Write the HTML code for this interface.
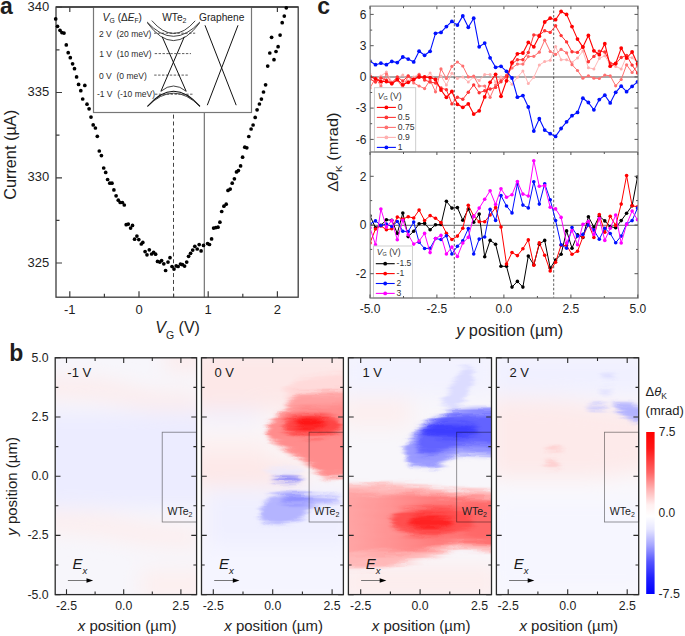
<!DOCTYPE html>
<html><head><meta charset="utf-8"><style>html,body{margin:0;padding:0;background:#fff;width:685px;height:636px;overflow:hidden}svg{display:block}</style></head>
<body><svg width="685" height="636" viewBox="0 0 685 636" font-family='"Liberation Sans", sans-serif' fill="#1e1e1e">
<g id="pa"><line x1="173.5" y1="114.6" x2="173.5" y2="297.2" stroke="#444" stroke-width="1" stroke-dasharray="4,2.89"/><line x1="204.3" y1="112.5" x2="204.3" y2="297.2" stroke="#666" stroke-width="1.1"/><rect x="56.0" y="7.0" width="242.2" height="290.2" fill="none" stroke="#3c3c3c" stroke-width="1.3"/><path d="M69.8 297.2v-6M69.8 7.0v5M139.0 297.2v-6M139.0 7.0v5M208.2 297.2v-6M208.2 7.0v5M277.4 297.2v-6M277.4 7.0v5M104.4 297.2v-3.5M104.4 7.0v3M173.6 297.2v-3.5M173.6 7.0v3M242.8 297.2v-3.5M242.8 7.0v3M56.0 263.0h6M56.0 177.8h6M56.0 92.5h6M56.0 7.2h6M56.0 220.4h3.5M56.0 135.1h3.5M56.0 49.9h3.5" stroke="#3c3c3c" stroke-width="1.2" fill="none"/><rect x="93.5" y="7.0" width="158" height="105.5" fill="#fff" stroke="#777" stroke-width="1.2"/><line x1="56.0" y1="7.0" x2="298.2" y2="7.0" stroke="#3c3c3c" stroke-width="1.3"/><text x="69.8" y="313.7" font-size="13" text-anchor="middle">-1</text><text x="139.0" y="313.7" font-size="13" text-anchor="middle">0</text><text x="208.2" y="313.7" font-size="13" text-anchor="middle">1</text><text x="277.4" y="313.7" font-size="13" text-anchor="middle">2</text><text x="49.3" y="266.5" font-size="13" text-anchor="end">325</text><text x="49.3" y="181.2" font-size="13" text-anchor="end">330</text><text x="49.3" y="96.0" font-size="13" text-anchor="end">335</text><text x="49.3" y="10.8" font-size="13" text-anchor="end">340</text><text x="155.3" y="333.4" font-size="16"><tspan font-style="italic">V</tspan><tspan font-size="10.5" dy="5.9">G</tspan><tspan dy="-5.9"> (V)</tspan></text><text transform="translate(16.1,154.9) scale(0.96,1) rotate(-90)" font-size="16.3" text-anchor="middle">Current (µA)</text><text x="0" y="13.6" font-size="23" font-weight="bold">a</text><g fill="#000"><circle cx="55.7" cy="18.9" r="1.85"/><circle cx="57.5" cy="26.3" r="1.85"/><circle cx="60" cy="30.3" r="1.85"/><circle cx="61.9" cy="32.6" r="1.85"/><circle cx="64" cy="33.1" r="1.85"/><circle cx="66.3" cy="44.9" r="1.85"/><circle cx="68.2" cy="52.7" r="1.85"/><circle cx="70.3" cy="57.7" r="1.85"/><circle cx="72.6" cy="63.8" r="1.85"/><circle cx="74.5" cy="68.7" r="1.85"/><circle cx="76.6" cy="76.9" r="1.85"/><circle cx="78.6" cy="84.4" r="1.85"/><circle cx="84.8" cy="85.4" r="1.85"/><circle cx="80.8" cy="90.7" r="1.85"/><circle cx="82.7" cy="99" r="1.85"/><circle cx="87" cy="104.2" r="1.85"/><circle cx="89.1" cy="108.8" r="1.85"/><circle cx="91" cy="117.1" r="1.85"/><circle cx="93.2" cy="124.9" r="1.85"/><circle cx="95.4" cy="128" r="1.85"/><circle cx="97.3" cy="136.3" r="1.85"/><circle cx="99.3" cy="151" r="1.85"/><circle cx="101.4" cy="155.6" r="1.85"/><circle cx="103.7" cy="168" r="1.85"/><circle cx="105.7" cy="172.4" r="1.85"/><circle cx="107.6" cy="179.5" r="1.85"/><circle cx="109.8" cy="183.2" r="1.85"/><circle cx="112" cy="183.2" r="1.85"/><circle cx="113.9" cy="189.9" r="1.85"/><circle cx="116.1" cy="195.8" r="1.85"/><circle cx="118.3" cy="200.2" r="1.85"/><circle cx="120.2" cy="202.5" r="1.85"/><circle cx="122.4" cy="202.5" r="1.85"/><circle cx="124.3" cy="205" r="1.85"/><circle cx="126.2" cy="224.7" r="1.85"/><circle cx="128.3" cy="224.1" r="1.85"/><circle cx="132.5" cy="225.4" r="1.85"/><circle cx="130.6" cy="228.1" r="1.85"/><circle cx="136.9" cy="236.1" r="1.85"/><circle cx="134.6" cy="239.2" r="1.85"/><circle cx="138.8" cy="239.6" r="1.85"/><circle cx="142.8" cy="242.4" r="1.85"/><circle cx="141.3" cy="244" r="1.85"/><circle cx="145.1" cy="251.6" r="1.85"/><circle cx="149.3" cy="249.8" r="1.85"/><circle cx="147" cy="254.8" r="1.85"/><circle cx="151.6" cy="254" r="1.85"/><circle cx="153.6" cy="252.4" r="1.85"/><circle cx="155.6" cy="254.2" r="1.85"/><circle cx="157.5" cy="261.4" r="1.85"/><circle cx="159.8" cy="262.1" r="1.85"/><circle cx="161.6" cy="260.6" r="1.85"/><circle cx="163.8" cy="263.8" r="1.85"/><circle cx="165.6" cy="270.5" r="1.85"/><circle cx="168" cy="262.1" r="1.85"/><circle cx="170" cy="257.7" r="1.85"/><circle cx="172" cy="266.5" r="1.85"/><circle cx="174" cy="269.1" r="1.85"/><circle cx="176.2" cy="265.9" r="1.85"/><circle cx="178.1" cy="266.5" r="1.85"/><circle cx="180.5" cy="264.1" r="1.85"/><circle cx="182.5" cy="264.7" r="1.85"/><circle cx="184.6" cy="266.1" r="1.85"/><circle cx="186.7" cy="262.1" r="1.85"/><circle cx="188.6" cy="256.3" r="1.85"/><circle cx="190.6" cy="253.3" r="1.85"/><circle cx="192.7" cy="250.1" r="1.85"/><circle cx="194.8" cy="246.3" r="1.85"/><circle cx="197.2" cy="249" r="1.85"/><circle cx="199.2" cy="244.6" r="1.85"/><circle cx="201.1" cy="250.9" r="1.85"/><circle cx="203.5" cy="245.4" r="1.85"/><circle cx="207.6" cy="243.6" r="1.85"/><circle cx="209.5" cy="244.5" r="1.85"/><circle cx="211.6" cy="238.9" r="1.85"/><circle cx="213.6" cy="228.1" r="1.85"/><circle cx="215.8" cy="227.6" r="1.85"/><circle cx="218" cy="227.2" r="1.85"/><circle cx="219.9" cy="222.2" r="1.85"/><circle cx="221.7" cy="211.5" r="1.85"/><circle cx="223.9" cy="206.2" r="1.85"/><circle cx="226.2" cy="204.2" r="1.85"/><circle cx="228" cy="190.4" r="1.85"/><circle cx="230.2" cy="189.1" r="1.85"/><circle cx="232.2" cy="183.2" r="1.85"/><circle cx="234.4" cy="178.8" r="1.85"/><circle cx="236.5" cy="171.9" r="1.85"/><circle cx="238.4" cy="170.6" r="1.85"/><circle cx="240.6" cy="165.9" r="1.85"/><circle cx="242.6" cy="157.2" r="1.85"/><circle cx="244.8" cy="147.2" r="1.85"/><circle cx="246.8" cy="147.8" r="1.85"/><circle cx="248.8" cy="136.5" r="1.85"/><circle cx="251.1" cy="129" r="1.85"/><circle cx="253.1" cy="125" r="1.85"/><circle cx="255.2" cy="117.4" r="1.85"/><circle cx="257.1" cy="109.8" r="1.85"/><circle cx="259.4" cy="104" r="1.85"/><circle cx="261.4" cy="99.1" r="1.85"/><circle cx="263.5" cy="92" r="1.85"/><circle cx="265.6" cy="84.8" r="1.85"/><circle cx="267.7" cy="66.1" r="1.85"/><circle cx="274" cy="59.7" r="1.85"/><circle cx="269.8" cy="53" r="1.85"/><circle cx="276" cy="51.5" r="1.85"/><circle cx="278.1" cy="46.7" r="1.85"/><circle cx="271.6" cy="37.3" r="1.85"/><circle cx="280.1" cy="35.1" r="1.85"/><circle cx="282.2" cy="22.7" r="1.85"/><circle cx="284.3" cy="16.1" r="1.85"/><circle cx="286.3" cy="7.8" r="1.85"/></g><g font-size="8.5" fill="#2a2a2a"><text x="99" y="36.8" xml:space="preserve">2 V  (20 meV)</text><text x="99.2" y="56.8" xml:space="preserve">1 V  (10 meV)</text><text x="99" y="78.7" xml:space="preserve">0 V  (0 meV)</text><text x="96.9" y="96.9" xml:space="preserve">-1 V  (-10 meV)</text></g><text x="102.6" y="21.1" font-size="10.5" fill="#222"><tspan font-style="italic">V</tspan><tspan font-size="6.8" dy="2">G</tspan><tspan dy="-2" font-size="10"> (Δ</tspan><tspan font-style="italic" font-size="10">E</tspan><tspan font-size="6.8" dy="2">F</tspan><tspan dy="-2" font-size="10">)</tspan></text><text x="162.2" y="20.6" font-size="10.2" fill="#222">WTe<tspan font-size="7" dy="2.5">2</tspan></text><text x="199" y="20.6" font-size="10.2" fill="#222">Graphene</text><g stroke="#333" stroke-width="0.8" stroke-dasharray="2.4,1.5"><line x1="154" y1="33.2" x2="195.2" y2="33.2"/><line x1="154.7" y1="53.6" x2="191" y2="53.6"/><line x1="154.2" y1="75.1" x2="189" y2="75.1"/><line x1="155" y1="94.2" x2="192.8" y2="94.2"/></g><g stroke="#111" stroke-width="0.8" fill="none"><path d="M151.8 20.6Q173.5 46.1 195.2 20.8"/><path d="M147 21.9Q173.5 50.7 200 21.9"/><path d="M147.5 23.1Q173.5 58.1 199.5 23.1"/><path d="M160.9 91.3Q173.5 80.7 186.2 91.3"/><path d="M147.5 106.4Q173.5 76.2 200 106.4" stroke-width="1.1"/><path d="M147.5 106.4Q173.5 80.0 200 106.4"/><path d="M162.2 36.8L186.2 91.3M184.3 36.8L160.9 91.3" stroke-width="1"/><path d="M205 25.3L236.2 105.2M238 25.3L207.3 105.2" stroke-width="1"/></g></g><defs><clipPath id="ctop"><rect x="370.2" y="6.2" width="267.8" height="145.8"/></clipPath><clipPath id="cbot"><rect x="370.2" y="152.0" width="267.8" height="146.0"/></clipPath></defs><path d="M370.2 76.9H638.0" stroke="#8c8c8c" stroke-width="1.5"/><path d="M370.2 225.3H638.0" stroke="#505050" stroke-width="0.9"/><path d="M454.3 6.2V298.0M553.7 6.2V298.0" stroke="#333" stroke-width="0.8" stroke-dasharray="2.5,1.9"/><g clip-path="url(#ctop)"><polyline points="370.0,74.0 375.5,80.0 380.9,76.0 386.4,72.0 391.8,82.0 397.3,78.0 402.8,75.0 408.2,81.0 413.7,77.0 419.1,74.0 424.6,79.0 430.1,73.0 435.5,80.0 441.0,76.0 446.4,85.0 451.9,73.2 457.4,78.4 462.8,77.0 468.3,82.0 473.7,77.0 479.2,80.5 484.7,74.4 490.1,74.6 495.6,82.0 501.0,77.0 506.5,78.4 512.0,84.2 517.4,77.3 522.9,71.0 528.3,83.6 533.8,77.3 539.3,65.1 544.7,61.6 550.2,60.3 555.6,46.5 561.1,59.7 566.6,59.7 572.0,62.4 577.5,58.0 582.9,51.1 588.4,67.8 593.9,68.9 599.3,58.4 604.8,55.8 610.2,64.4 615.7,66.4 621.2,68.9 626.6,56.4 632.1,57.8 637.5,62.4" fill="none" stroke="#ffb0b0" stroke-width="0.9" stroke-linejoin="round"/><g fill="#ffb0b0"><circle cx="370.0" cy="74.0" r="1.5"/><circle cx="375.5" cy="80.0" r="1.5"/><circle cx="380.9" cy="76.0" r="1.5"/><circle cx="386.4" cy="72.0" r="1.5"/><circle cx="391.8" cy="82.0" r="1.5"/><circle cx="397.3" cy="78.0" r="1.5"/><circle cx="402.8" cy="75.0" r="1.5"/><circle cx="408.2" cy="81.0" r="1.5"/><circle cx="413.7" cy="77.0" r="1.5"/><circle cx="419.1" cy="74.0" r="1.5"/><circle cx="424.6" cy="79.0" r="1.5"/><circle cx="430.1" cy="73.0" r="1.5"/><circle cx="435.5" cy="80.0" r="1.5"/><circle cx="441.0" cy="76.0" r="1.5"/><circle cx="446.4" cy="85.0" r="1.5"/><circle cx="451.9" cy="73.2" r="1.5"/><circle cx="457.4" cy="78.4" r="1.5"/><circle cx="462.8" cy="77.0" r="1.5"/><circle cx="468.3" cy="82.0" r="1.5"/><circle cx="473.7" cy="77.0" r="1.5"/><circle cx="479.2" cy="80.5" r="1.5"/><circle cx="484.7" cy="74.4" r="1.5"/><circle cx="490.1" cy="74.6" r="1.5"/><circle cx="495.6" cy="82.0" r="1.5"/><circle cx="501.0" cy="77.0" r="1.5"/><circle cx="506.5" cy="78.4" r="1.5"/><circle cx="512.0" cy="84.2" r="1.5"/><circle cx="517.4" cy="77.3" r="1.5"/><circle cx="522.9" cy="71.0" r="1.5"/><circle cx="528.3" cy="83.6" r="1.5"/><circle cx="533.8" cy="77.3" r="1.5"/><circle cx="539.3" cy="65.1" r="1.5"/><circle cx="544.7" cy="61.6" r="1.5"/><circle cx="550.2" cy="60.3" r="1.5"/><circle cx="555.6" cy="46.5" r="1.5"/><circle cx="561.1" cy="59.7" r="1.5"/><circle cx="566.6" cy="59.7" r="1.5"/><circle cx="572.0" cy="62.4" r="1.5"/><circle cx="577.5" cy="58.0" r="1.5"/><circle cx="582.9" cy="51.1" r="1.5"/><circle cx="588.4" cy="67.8" r="1.5"/><circle cx="593.9" cy="68.9" r="1.5"/><circle cx="599.3" cy="58.4" r="1.5"/><circle cx="604.8" cy="55.8" r="1.5"/><circle cx="610.2" cy="64.4" r="1.5"/><circle cx="615.7" cy="66.4" r="1.5"/><circle cx="621.2" cy="68.9" r="1.5"/><circle cx="626.6" cy="56.4" r="1.5"/><circle cx="632.1" cy="57.8" r="1.5"/><circle cx="637.5" cy="62.4" r="1.5"/></g></g><g clip-path="url(#ctop)"><polyline points="370.0,88.0 375.5,78.0 380.9,86.0 386.4,74.0 391.8,84.0 397.3,80.0 402.8,88.0 408.2,76.0 413.7,83.0 419.1,86.0 424.6,88.6 430.1,80.0 435.5,91.8 441.0,68.9 446.4,78.4 451.9,66.4 457.4,62.0 462.8,66.0 468.3,76.9 473.7,76.2 479.2,86.0 484.7,86.0 490.1,97.3 495.6,85.0 501.0,80.0 506.5,75.0 512.0,68.0 517.4,64.1 522.9,64.1 528.3,56.6 533.8,56.3 539.3,52.2 544.7,40.2 550.2,51.5 555.6,54.4 561.1,49.4 566.6,52.8 572.0,64.7 577.5,70.5 582.9,78.2 588.4,75.8 593.9,78.2 599.3,78.5 604.8,75.1 610.2,75.8 615.7,85.8 621.2,79.5 626.6,64.8 632.1,72.5 637.5,65.8" fill="none" stroke="#ff7070" stroke-width="1.0" stroke-linejoin="round"/><g fill="#ff7070"><circle cx="370.0" cy="88.0" r="1.6"/><circle cx="375.5" cy="78.0" r="1.6"/><circle cx="380.9" cy="86.0" r="1.6"/><circle cx="386.4" cy="74.0" r="1.6"/><circle cx="391.8" cy="84.0" r="1.6"/><circle cx="397.3" cy="80.0" r="1.6"/><circle cx="402.8" cy="88.0" r="1.6"/><circle cx="408.2" cy="76.0" r="1.6"/><circle cx="413.7" cy="83.0" r="1.6"/><circle cx="419.1" cy="86.0" r="1.6"/><circle cx="424.6" cy="88.6" r="1.6"/><circle cx="430.1" cy="80.0" r="1.6"/><circle cx="435.5" cy="91.8" r="1.6"/><circle cx="441.0" cy="68.9" r="1.6"/><circle cx="446.4" cy="78.4" r="1.6"/><circle cx="451.9" cy="66.4" r="1.6"/><circle cx="457.4" cy="62.0" r="1.6"/><circle cx="462.8" cy="66.0" r="1.6"/><circle cx="468.3" cy="76.9" r="1.6"/><circle cx="473.7" cy="76.2" r="1.6"/><circle cx="479.2" cy="86.0" r="1.6"/><circle cx="484.7" cy="86.0" r="1.6"/><circle cx="490.1" cy="97.3" r="1.6"/><circle cx="495.6" cy="85.0" r="1.6"/><circle cx="501.0" cy="80.0" r="1.6"/><circle cx="506.5" cy="75.0" r="1.6"/><circle cx="512.0" cy="68.0" r="1.6"/><circle cx="517.4" cy="64.1" r="1.6"/><circle cx="522.9" cy="64.1" r="1.6"/><circle cx="528.3" cy="56.6" r="1.6"/><circle cx="533.8" cy="56.3" r="1.6"/><circle cx="539.3" cy="52.2" r="1.6"/><circle cx="544.7" cy="40.2" r="1.6"/><circle cx="550.2" cy="51.5" r="1.6"/><circle cx="555.6" cy="54.4" r="1.6"/><circle cx="561.1" cy="49.4" r="1.6"/><circle cx="566.6" cy="52.8" r="1.6"/><circle cx="572.0" cy="64.7" r="1.6"/><circle cx="577.5" cy="70.5" r="1.6"/><circle cx="582.9" cy="78.2" r="1.6"/><circle cx="588.4" cy="75.8" r="1.6"/><circle cx="593.9" cy="78.2" r="1.6"/><circle cx="599.3" cy="78.5" r="1.6"/><circle cx="604.8" cy="75.1" r="1.6"/><circle cx="610.2" cy="75.8" r="1.6"/><circle cx="615.7" cy="85.8" r="1.6"/><circle cx="621.2" cy="79.5" r="1.6"/><circle cx="626.6" cy="64.8" r="1.6"/><circle cx="632.1" cy="72.5" r="1.6"/><circle cx="637.5" cy="65.8" r="1.6"/></g></g><g clip-path="url(#ctop)"><polyline points="370.0,79.0 375.5,82.0 380.9,78.0 386.4,80.0 391.8,83.0 397.3,77.0 402.8,81.0 408.2,76.0 413.7,80.0 419.1,75.0 424.6,80.0 430.1,82.0 435.5,83.0 441.0,88.0 446.4,89.7 451.9,103.9 457.4,97.3 462.8,99.2 468.3,92.2 473.7,84.9 479.2,92.7 484.7,90.8 490.1,89.0 495.6,87.4 501.0,81.7 506.5,76.2 512.0,63.8 517.4,59.7 522.9,59.7 528.3,52.5 533.8,34.9 539.3,35.2 544.7,30.8 550.2,32.4 555.6,25.8 561.1,35.6 566.6,41.9 572.0,51.8 577.5,52.4 582.9,46.7 588.4,61.8 593.9,56.4 599.3,51.1 604.8,52.0 610.2,63.1 615.7,63.8 621.2,57.5 626.6,55.5 632.1,65.1 637.5,73.1" fill="none" stroke="#ff3535" stroke-width="1.0" stroke-linejoin="round"/><g fill="#ff3535"><circle cx="370.0" cy="79.0" r="1.7"/><circle cx="375.5" cy="82.0" r="1.7"/><circle cx="380.9" cy="78.0" r="1.7"/><circle cx="386.4" cy="80.0" r="1.7"/><circle cx="391.8" cy="83.0" r="1.7"/><circle cx="397.3" cy="77.0" r="1.7"/><circle cx="402.8" cy="81.0" r="1.7"/><circle cx="408.2" cy="76.0" r="1.7"/><circle cx="413.7" cy="80.0" r="1.7"/><circle cx="419.1" cy="75.0" r="1.7"/><circle cx="424.6" cy="80.0" r="1.7"/><circle cx="430.1" cy="82.0" r="1.7"/><circle cx="435.5" cy="83.0" r="1.7"/><circle cx="441.0" cy="88.0" r="1.7"/><circle cx="446.4" cy="89.7" r="1.7"/><circle cx="451.9" cy="103.9" r="1.7"/><circle cx="457.4" cy="97.3" r="1.7"/><circle cx="462.8" cy="99.2" r="1.7"/><circle cx="468.3" cy="92.2" r="1.7"/><circle cx="473.7" cy="84.9" r="1.7"/><circle cx="479.2" cy="92.7" r="1.7"/><circle cx="484.7" cy="90.8" r="1.7"/><circle cx="490.1" cy="89.0" r="1.7"/><circle cx="495.6" cy="87.4" r="1.7"/><circle cx="501.0" cy="81.7" r="1.7"/><circle cx="506.5" cy="76.2" r="1.7"/><circle cx="512.0" cy="63.8" r="1.7"/><circle cx="517.4" cy="59.7" r="1.7"/><circle cx="522.9" cy="59.7" r="1.7"/><circle cx="528.3" cy="52.5" r="1.7"/><circle cx="533.8" cy="34.9" r="1.7"/><circle cx="539.3" cy="35.2" r="1.7"/><circle cx="544.7" cy="30.8" r="1.7"/><circle cx="550.2" cy="32.4" r="1.7"/><circle cx="555.6" cy="25.8" r="1.7"/><circle cx="561.1" cy="35.6" r="1.7"/><circle cx="566.6" cy="41.9" r="1.7"/><circle cx="572.0" cy="51.8" r="1.7"/><circle cx="577.5" cy="52.4" r="1.7"/><circle cx="582.9" cy="46.7" r="1.7"/><circle cx="588.4" cy="61.8" r="1.7"/><circle cx="593.9" cy="56.4" r="1.7"/><circle cx="599.3" cy="51.1" r="1.7"/><circle cx="604.8" cy="52.0" r="1.7"/><circle cx="610.2" cy="63.1" r="1.7"/><circle cx="615.7" cy="63.8" r="1.7"/><circle cx="621.2" cy="57.5" r="1.7"/><circle cx="626.6" cy="55.5" r="1.7"/><circle cx="632.1" cy="65.1" r="1.7"/><circle cx="637.5" cy="73.1" r="1.7"/></g></g><g clip-path="url(#ctop)"><polyline points="370.0,76.6 375.5,78.8 380.9,81.5 386.4,81.5 391.8,83.6 397.3,79.7 402.8,84.8 408.2,82.3 413.7,79.3 419.1,77.1 424.6,76.9 430.1,77.6 435.5,79.5 441.0,90.0 446.4,97.3 451.9,91.5 457.4,104.3 462.8,107.3 468.3,103.9 473.7,114.1 479.2,110.8 484.7,96.9 490.1,82.3 495.6,74.3 501.0,96.3 506.5,80.8 512.0,62.3 517.4,53.8 522.9,53.0 528.3,42.4 533.8,46.8 539.3,36.2 544.7,22.0 550.2,18.2 555.6,19.7 561.1,11.5 566.6,14.4 572.0,26.6 577.5,39.1 582.9,47.1 588.4,35.5 593.9,50.8 599.3,54.7 604.8,43.7 610.2,66.2 615.7,63.5 621.2,48.1 626.6,58.0 632.1,52.0 637.5,63.8" fill="none" stroke="#ff0000" stroke-width="1.1" stroke-linejoin="round"/><g fill="#ff0000"><circle cx="370.0" cy="76.6" r="1.9"/><circle cx="375.5" cy="78.8" r="1.9"/><circle cx="380.9" cy="81.5" r="1.9"/><circle cx="386.4" cy="81.5" r="1.9"/><circle cx="391.8" cy="83.6" r="1.9"/><circle cx="397.3" cy="79.7" r="1.9"/><circle cx="402.8" cy="84.8" r="1.9"/><circle cx="408.2" cy="82.3" r="1.9"/><circle cx="413.7" cy="79.3" r="1.9"/><circle cx="419.1" cy="77.1" r="1.9"/><circle cx="424.6" cy="76.9" r="1.9"/><circle cx="430.1" cy="77.6" r="1.9"/><circle cx="435.5" cy="79.5" r="1.9"/><circle cx="441.0" cy="90.0" r="1.9"/><circle cx="446.4" cy="97.3" r="1.9"/><circle cx="451.9" cy="91.5" r="1.9"/><circle cx="457.4" cy="104.3" r="1.9"/><circle cx="462.8" cy="107.3" r="1.9"/><circle cx="468.3" cy="103.9" r="1.9"/><circle cx="473.7" cy="114.1" r="1.9"/><circle cx="479.2" cy="110.8" r="1.9"/><circle cx="484.7" cy="96.9" r="1.9"/><circle cx="490.1" cy="82.3" r="1.9"/><circle cx="495.6" cy="74.3" r="1.9"/><circle cx="501.0" cy="96.3" r="1.9"/><circle cx="506.5" cy="80.8" r="1.9"/><circle cx="512.0" cy="62.3" r="1.9"/><circle cx="517.4" cy="53.8" r="1.9"/><circle cx="522.9" cy="53.0" r="1.9"/><circle cx="528.3" cy="42.4" r="1.9"/><circle cx="533.8" cy="46.8" r="1.9"/><circle cx="539.3" cy="36.2" r="1.9"/><circle cx="544.7" cy="22.0" r="1.9"/><circle cx="550.2" cy="18.2" r="1.9"/><circle cx="555.6" cy="19.7" r="1.9"/><circle cx="561.1" cy="11.5" r="1.9"/><circle cx="566.6" cy="14.4" r="1.9"/><circle cx="572.0" cy="26.6" r="1.9"/><circle cx="577.5" cy="39.1" r="1.9"/><circle cx="582.9" cy="47.1" r="1.9"/><circle cx="588.4" cy="35.5" r="1.9"/><circle cx="593.9" cy="50.8" r="1.9"/><circle cx="599.3" cy="54.7" r="1.9"/><circle cx="604.8" cy="43.7" r="1.9"/><circle cx="610.2" cy="66.2" r="1.9"/><circle cx="615.7" cy="63.5" r="1.9"/><circle cx="621.2" cy="48.1" r="1.9"/><circle cx="626.6" cy="58.0" r="1.9"/><circle cx="632.1" cy="52.0" r="1.9"/><circle cx="637.5" cy="63.8" r="1.9"/></g></g><g clip-path="url(#ctop)"><polyline points="370.0,61.2 375.5,64.7 380.9,63.2 386.4,64.7 391.8,61.4 397.3,62.6 402.8,57.0 408.2,59.1 413.7,61.9 419.1,51.2 424.6,55.3 430.1,51.3 435.5,33.3 441.0,32.4 446.4,26.6 451.9,21.4 457.4,25.1 462.8,15.9 468.3,27.3 473.7,18.2 479.2,46.8 484.7,43.1 490.1,57.8 495.6,67.3 501.0,66.3 506.5,71.3 512.0,78.0 517.4,97.2 522.9,95.6 528.3,107.0 533.8,131.1 539.3,118.7 544.7,130.1 550.2,133.7 555.6,136.4 561.1,128.5 566.6,121.8 572.0,115.7 577.5,112.4 582.9,98.2 588.4,102.5 593.9,109.8 599.3,99.6 604.8,95.2 610.2,102.9 615.7,92.3 621.2,86.2 626.6,91.7 632.1,86.4 637.5,81.8" fill="none" stroke="#0010ff" stroke-width="1.1" stroke-linejoin="round"/><g fill="#0010ff"><circle cx="370.0" cy="61.2" r="1.9"/><circle cx="375.5" cy="64.7" r="1.9"/><circle cx="380.9" cy="63.2" r="1.9"/><circle cx="386.4" cy="64.7" r="1.9"/><circle cx="391.8" cy="61.4" r="1.9"/><circle cx="397.3" cy="62.6" r="1.9"/><circle cx="402.8" cy="57.0" r="1.9"/><circle cx="408.2" cy="59.1" r="1.9"/><circle cx="413.7" cy="61.9" r="1.9"/><circle cx="419.1" cy="51.2" r="1.9"/><circle cx="424.6" cy="55.3" r="1.9"/><circle cx="430.1" cy="51.3" r="1.9"/><circle cx="435.5" cy="33.3" r="1.9"/><circle cx="441.0" cy="32.4" r="1.9"/><circle cx="446.4" cy="26.6" r="1.9"/><circle cx="451.9" cy="21.4" r="1.9"/><circle cx="457.4" cy="25.1" r="1.9"/><circle cx="462.8" cy="15.9" r="1.9"/><circle cx="468.3" cy="27.3" r="1.9"/><circle cx="473.7" cy="18.2" r="1.9"/><circle cx="479.2" cy="46.8" r="1.9"/><circle cx="484.7" cy="43.1" r="1.9"/><circle cx="490.1" cy="57.8" r="1.9"/><circle cx="495.6" cy="67.3" r="1.9"/><circle cx="501.0" cy="66.3" r="1.9"/><circle cx="506.5" cy="71.3" r="1.9"/><circle cx="512.0" cy="78.0" r="1.9"/><circle cx="517.4" cy="97.2" r="1.9"/><circle cx="522.9" cy="95.6" r="1.9"/><circle cx="528.3" cy="107.0" r="1.9"/><circle cx="533.8" cy="131.1" r="1.9"/><circle cx="539.3" cy="118.7" r="1.9"/><circle cx="544.7" cy="130.1" r="1.9"/><circle cx="550.2" cy="133.7" r="1.9"/><circle cx="555.6" cy="136.4" r="1.9"/><circle cx="561.1" cy="128.5" r="1.9"/><circle cx="566.6" cy="121.8" r="1.9"/><circle cx="572.0" cy="115.7" r="1.9"/><circle cx="577.5" cy="112.4" r="1.9"/><circle cx="582.9" cy="98.2" r="1.9"/><circle cx="588.4" cy="102.5" r="1.9"/><circle cx="593.9" cy="109.8" r="1.9"/><circle cx="599.3" cy="99.6" r="1.9"/><circle cx="604.8" cy="95.2" r="1.9"/><circle cx="610.2" cy="102.9" r="1.9"/><circle cx="615.7" cy="92.3" r="1.9"/><circle cx="621.2" cy="86.2" r="1.9"/><circle cx="626.6" cy="91.7" r="1.9"/><circle cx="632.1" cy="86.4" r="1.9"/><circle cx="637.5" cy="81.8" r="1.9"/></g></g><g clip-path="url(#cbot)"><polyline points="370.0,215.8 375.5,227.8 380.9,225.3 386.4,219.8 391.8,220.2 397.3,233.4 402.8,213.0 408.2,236.6 413.7,231.2 419.1,223.8 424.6,223.4 430.1,229.7 435.5,224.8 441.0,224.5 446.4,201.3 451.9,208.1 457.4,207.6 462.8,220.2 468.3,209.0 473.7,222.3 479.2,214.1 484.7,256.8 490.1,240.4 495.6,244.2 501.0,266.3 506.5,266.3 512.0,287.1 517.4,281.4 522.9,287.1 528.3,256.1 533.8,264.7 539.3,244.2 544.7,240.4 550.2,268.1 555.6,260.0 561.1,254.3 566.6,230.9 572.0,248.2 577.5,234.7 582.9,237.5 588.4,216.7 593.9,227.1 599.3,216.2 604.8,220.9 610.2,226.6 615.7,227.8 621.2,220.6 626.6,213.3 632.1,205.8 637.5,177.0" fill="none" stroke="#000" stroke-width="1.0" stroke-linejoin="round"/><g fill="#000"><circle cx="370.0" cy="215.8" r="1.8"/><circle cx="375.5" cy="227.8" r="1.8"/><circle cx="380.9" cy="225.3" r="1.8"/><circle cx="386.4" cy="219.8" r="1.8"/><circle cx="391.8" cy="220.2" r="1.8"/><circle cx="397.3" cy="233.4" r="1.8"/><circle cx="402.8" cy="213.0" r="1.8"/><circle cx="408.2" cy="236.6" r="1.8"/><circle cx="413.7" cy="231.2" r="1.8"/><circle cx="419.1" cy="223.8" r="1.8"/><circle cx="424.6" cy="223.4" r="1.8"/><circle cx="430.1" cy="229.7" r="1.8"/><circle cx="435.5" cy="224.8" r="1.8"/><circle cx="441.0" cy="224.5" r="1.8"/><circle cx="446.4" cy="201.3" r="1.8"/><circle cx="451.9" cy="208.1" r="1.8"/><circle cx="457.4" cy="207.6" r="1.8"/><circle cx="462.8" cy="220.2" r="1.8"/><circle cx="468.3" cy="209.0" r="1.8"/><circle cx="473.7" cy="222.3" r="1.8"/><circle cx="479.2" cy="214.1" r="1.8"/><circle cx="484.7" cy="256.8" r="1.8"/><circle cx="490.1" cy="240.4" r="1.8"/><circle cx="495.6" cy="244.2" r="1.8"/><circle cx="501.0" cy="266.3" r="1.8"/><circle cx="506.5" cy="266.3" r="1.8"/><circle cx="512.0" cy="287.1" r="1.8"/><circle cx="517.4" cy="281.4" r="1.8"/><circle cx="522.9" cy="287.1" r="1.8"/><circle cx="528.3" cy="256.1" r="1.8"/><circle cx="533.8" cy="264.7" r="1.8"/><circle cx="539.3" cy="244.2" r="1.8"/><circle cx="544.7" cy="240.4" r="1.8"/><circle cx="550.2" cy="268.1" r="1.8"/><circle cx="555.6" cy="260.0" r="1.8"/><circle cx="561.1" cy="254.3" r="1.8"/><circle cx="566.6" cy="230.9" r="1.8"/><circle cx="572.0" cy="248.2" r="1.8"/><circle cx="577.5" cy="234.7" r="1.8"/><circle cx="582.9" cy="237.5" r="1.8"/><circle cx="588.4" cy="216.7" r="1.8"/><circle cx="593.9" cy="227.1" r="1.8"/><circle cx="599.3" cy="216.2" r="1.8"/><circle cx="604.8" cy="220.9" r="1.8"/><circle cx="610.2" cy="226.6" r="1.8"/><circle cx="615.7" cy="227.8" r="1.8"/><circle cx="621.2" cy="220.6" r="1.8"/><circle cx="626.6" cy="213.3" r="1.8"/><circle cx="632.1" cy="205.8" r="1.8"/><circle cx="637.5" cy="177.0" r="1.8"/></g></g><g clip-path="url(#cbot)"><polyline points="370.0,242.9 375.5,229.0 380.9,225.9 386.4,229.7 391.8,228.8 397.3,217.1 402.8,219.0 408.2,216.7 413.7,218.0 419.1,210.1 424.6,220.5 430.1,215.6 435.5,218.2 441.0,222.6 446.4,233.2 451.9,239.5 457.4,236.1 462.8,228.2 468.3,205.3 473.7,216.0 479.2,221.7 484.7,221.7 490.1,215.0 495.6,207.6 501.0,227.0 506.5,264.1 512.0,252.5 517.4,255.6 522.9,248.7 528.3,239.9 533.8,265.3 539.3,242.9 544.7,255.3 550.2,271.0 555.6,262.2 561.1,245.2 566.6,245.6 572.0,254.3 577.5,251.3 582.9,237.0 588.4,224.0 593.9,237.5 599.3,214.5 604.8,232.3 610.2,216.2 615.7,225.4 621.2,204.1 626.6,175.6 632.1,205.8 637.5,206.7" fill="none" stroke="#ff0000" stroke-width="1.0" stroke-linejoin="round"/><g fill="#ff0000"><circle cx="370.0" cy="242.9" r="1.8"/><circle cx="375.5" cy="229.0" r="1.8"/><circle cx="380.9" cy="225.9" r="1.8"/><circle cx="386.4" cy="229.7" r="1.8"/><circle cx="391.8" cy="228.8" r="1.8"/><circle cx="397.3" cy="217.1" r="1.8"/><circle cx="402.8" cy="219.0" r="1.8"/><circle cx="408.2" cy="216.7" r="1.8"/><circle cx="413.7" cy="218.0" r="1.8"/><circle cx="419.1" cy="210.1" r="1.8"/><circle cx="424.6" cy="220.5" r="1.8"/><circle cx="430.1" cy="215.6" r="1.8"/><circle cx="435.5" cy="218.2" r="1.8"/><circle cx="441.0" cy="222.6" r="1.8"/><circle cx="446.4" cy="233.2" r="1.8"/><circle cx="451.9" cy="239.5" r="1.8"/><circle cx="457.4" cy="236.1" r="1.8"/><circle cx="462.8" cy="228.2" r="1.8"/><circle cx="468.3" cy="205.3" r="1.8"/><circle cx="473.7" cy="216.0" r="1.8"/><circle cx="479.2" cy="221.7" r="1.8"/><circle cx="484.7" cy="221.7" r="1.8"/><circle cx="490.1" cy="215.0" r="1.8"/><circle cx="495.6" cy="207.6" r="1.8"/><circle cx="501.0" cy="227.0" r="1.8"/><circle cx="506.5" cy="264.1" r="1.8"/><circle cx="512.0" cy="252.5" r="1.8"/><circle cx="517.4" cy="255.6" r="1.8"/><circle cx="522.9" cy="248.7" r="1.8"/><circle cx="528.3" cy="239.9" r="1.8"/><circle cx="533.8" cy="265.3" r="1.8"/><circle cx="539.3" cy="242.9" r="1.8"/><circle cx="544.7" cy="255.3" r="1.8"/><circle cx="550.2" cy="271.0" r="1.8"/><circle cx="555.6" cy="262.2" r="1.8"/><circle cx="561.1" cy="245.2" r="1.8"/><circle cx="566.6" cy="245.6" r="1.8"/><circle cx="572.0" cy="254.3" r="1.8"/><circle cx="577.5" cy="251.3" r="1.8"/><circle cx="582.9" cy="237.0" r="1.8"/><circle cx="588.4" cy="224.0" r="1.8"/><circle cx="593.9" cy="237.5" r="1.8"/><circle cx="599.3" cy="214.5" r="1.8"/><circle cx="604.8" cy="232.3" r="1.8"/><circle cx="610.2" cy="216.2" r="1.8"/><circle cx="615.7" cy="225.4" r="1.8"/><circle cx="621.2" cy="204.1" r="1.8"/><circle cx="626.6" cy="175.6" r="1.8"/><circle cx="632.1" cy="205.8" r="1.8"/><circle cx="637.5" cy="206.7" r="1.8"/></g></g><g clip-path="url(#cbot)"><polyline points="370.0,224.0 375.5,220.9 380.9,225.5 386.4,224.0 391.8,226.5 397.3,221.5 402.8,231.3 408.2,231.5 413.7,222.1 419.1,242.3 424.6,248.5 430.1,248.2 435.5,238.6 441.0,239.5 446.4,235.7 451.9,254.0 457.4,246.2 462.8,240.8 468.3,228.6 473.7,254.0 479.2,239.1 484.7,237.0 490.1,209.4 495.6,220.4 501.0,195.6 506.5,206.0 512.0,212.9 517.4,184.0 522.9,205.1 528.3,207.9 533.8,181.7 539.3,204.1 544.7,183.7 550.2,199.7 555.6,220.5 561.1,244.8 566.6,248.2 572.0,227.5 577.5,236.1 582.9,234.4 588.4,224.9 593.9,230.1 599.3,239.2 604.8,228.3 610.2,233.5 615.7,242.7 621.2,236.1 626.6,224.0 632.1,220.6 637.5,208.1" fill="none" stroke="#0010ff" stroke-width="1.0" stroke-linejoin="round"/><g fill="#0010ff"><circle cx="370.0" cy="224.0" r="1.8"/><circle cx="375.5" cy="220.9" r="1.8"/><circle cx="380.9" cy="225.5" r="1.8"/><circle cx="386.4" cy="224.0" r="1.8"/><circle cx="391.8" cy="226.5" r="1.8"/><circle cx="397.3" cy="221.5" r="1.8"/><circle cx="402.8" cy="231.3" r="1.8"/><circle cx="408.2" cy="231.5" r="1.8"/><circle cx="413.7" cy="222.1" r="1.8"/><circle cx="419.1" cy="242.3" r="1.8"/><circle cx="424.6" cy="248.5" r="1.8"/><circle cx="430.1" cy="248.2" r="1.8"/><circle cx="435.5" cy="238.6" r="1.8"/><circle cx="441.0" cy="239.5" r="1.8"/><circle cx="446.4" cy="235.7" r="1.8"/><circle cx="451.9" cy="254.0" r="1.8"/><circle cx="457.4" cy="246.2" r="1.8"/><circle cx="462.8" cy="240.8" r="1.8"/><circle cx="468.3" cy="228.6" r="1.8"/><circle cx="473.7" cy="254.0" r="1.8"/><circle cx="479.2" cy="239.1" r="1.8"/><circle cx="484.7" cy="237.0" r="1.8"/><circle cx="490.1" cy="209.4" r="1.8"/><circle cx="495.6" cy="220.4" r="1.8"/><circle cx="501.0" cy="195.6" r="1.8"/><circle cx="506.5" cy="206.0" r="1.8"/><circle cx="512.0" cy="212.9" r="1.8"/><circle cx="517.4" cy="184.0" r="1.8"/><circle cx="522.9" cy="205.1" r="1.8"/><circle cx="528.3" cy="207.9" r="1.8"/><circle cx="533.8" cy="181.7" r="1.8"/><circle cx="539.3" cy="204.1" r="1.8"/><circle cx="544.7" cy="183.7" r="1.8"/><circle cx="550.2" cy="199.7" r="1.8"/><circle cx="555.6" cy="220.5" r="1.8"/><circle cx="561.1" cy="244.8" r="1.8"/><circle cx="566.6" cy="248.2" r="1.8"/><circle cx="572.0" cy="227.5" r="1.8"/><circle cx="577.5" cy="236.1" r="1.8"/><circle cx="582.9" cy="234.4" r="1.8"/><circle cx="588.4" cy="224.9" r="1.8"/><circle cx="593.9" cy="230.1" r="1.8"/><circle cx="599.3" cy="239.2" r="1.8"/><circle cx="604.8" cy="228.3" r="1.8"/><circle cx="610.2" cy="233.5" r="1.8"/><circle cx="615.7" cy="242.7" r="1.8"/><circle cx="621.2" cy="236.1" r="1.8"/><circle cx="626.6" cy="224.0" r="1.8"/><circle cx="632.1" cy="220.6" r="1.8"/><circle cx="637.5" cy="208.1" r="1.8"/></g></g><g clip-path="url(#cbot)"><polyline points="370.0,227.8 375.5,244.8 380.9,209.1 386.4,227.1 391.8,220.6 397.3,239.7 402.8,220.2 408.2,234.7 413.7,244.1 419.1,241.0 424.6,233.4 430.1,252.6 435.5,238.5 441.0,235.4 446.4,254.0 451.9,247.1 457.4,256.5 462.8,243.0 468.3,237.4 473.7,216.4 479.2,208.1 484.7,199.3 490.1,190.8 495.6,204.5 501.0,188.8 506.5,197.2 512.0,194.7 517.4,181.5 522.9,194.1 528.3,196.0 533.8,160.7 539.3,186.3 544.7,185.6 550.2,207.3 555.6,208.9 561.1,217.4 566.6,243.0 572.0,230.6 577.5,244.8 582.9,224.4 588.4,221.4 593.9,234.4 599.3,218.5 604.8,240.4 610.2,228.3 615.7,215.0 621.2,243.0 626.6,224.4 632.1,211.0 637.5,219.7" fill="none" stroke="#ff00ff" stroke-width="1.0" stroke-linejoin="round"/><g fill="#ff00ff"><circle cx="370.0" cy="227.8" r="1.8"/><circle cx="375.5" cy="244.8" r="1.8"/><circle cx="380.9" cy="209.1" r="1.8"/><circle cx="386.4" cy="227.1" r="1.8"/><circle cx="391.8" cy="220.6" r="1.8"/><circle cx="397.3" cy="239.7" r="1.8"/><circle cx="402.8" cy="220.2" r="1.8"/><circle cx="408.2" cy="234.7" r="1.8"/><circle cx="413.7" cy="244.1" r="1.8"/><circle cx="419.1" cy="241.0" r="1.8"/><circle cx="424.6" cy="233.4" r="1.8"/><circle cx="430.1" cy="252.6" r="1.8"/><circle cx="435.5" cy="238.5" r="1.8"/><circle cx="441.0" cy="235.4" r="1.8"/><circle cx="446.4" cy="254.0" r="1.8"/><circle cx="451.9" cy="247.1" r="1.8"/><circle cx="457.4" cy="256.5" r="1.8"/><circle cx="462.8" cy="243.0" r="1.8"/><circle cx="468.3" cy="237.4" r="1.8"/><circle cx="473.7" cy="216.4" r="1.8"/><circle cx="479.2" cy="208.1" r="1.8"/><circle cx="484.7" cy="199.3" r="1.8"/><circle cx="490.1" cy="190.8" r="1.8"/><circle cx="495.6" cy="204.5" r="1.8"/><circle cx="501.0" cy="188.8" r="1.8"/><circle cx="506.5" cy="197.2" r="1.8"/><circle cx="512.0" cy="194.7" r="1.8"/><circle cx="517.4" cy="181.5" r="1.8"/><circle cx="522.9" cy="194.1" r="1.8"/><circle cx="528.3" cy="196.0" r="1.8"/><circle cx="533.8" cy="160.7" r="1.8"/><circle cx="539.3" cy="186.3" r="1.8"/><circle cx="544.7" cy="185.6" r="1.8"/><circle cx="550.2" cy="207.3" r="1.8"/><circle cx="555.6" cy="208.9" r="1.8"/><circle cx="561.1" cy="217.4" r="1.8"/><circle cx="566.6" cy="243.0" r="1.8"/><circle cx="572.0" cy="230.6" r="1.8"/><circle cx="577.5" cy="244.8" r="1.8"/><circle cx="582.9" cy="224.4" r="1.8"/><circle cx="588.4" cy="221.4" r="1.8"/><circle cx="593.9" cy="234.4" r="1.8"/><circle cx="599.3" cy="218.5" r="1.8"/><circle cx="604.8" cy="240.4" r="1.8"/><circle cx="610.2" cy="228.3" r="1.8"/><circle cx="615.7" cy="215.0" r="1.8"/><circle cx="621.2" cy="243.0" r="1.8"/><circle cx="626.6" cy="224.4" r="1.8"/><circle cx="632.1" cy="211.0" r="1.8"/><circle cx="637.5" cy="219.7" r="1.8"/></g></g><rect x="374.4" y="87.7" width="41.30000000000001" height="64.3" fill="#fff" stroke="#c8c8c8" stroke-width="0.9"/><text x="377.7" y="98.6" font-size="8.6" fill="#333"><tspan font-style="italic">V</tspan><tspan font-size="5.5" dy="1.8">G</tspan><tspan dy="-1.8"> (V)</tspan></text><line x1="376.8" y1="107.4" x2="395.9" y2="107.4" stroke="#ff0000" stroke-width="1.1"/><circle cx="386.4" cy="107.4" r="1.9" fill="#ff0000"/><text x="397.8" y="110.0" font-size="8.6" fill="#333">0</text><line x1="376.8" y1="117.4" x2="395.9" y2="117.4" stroke="#ff3535" stroke-width="1.1"/><circle cx="386.4" cy="117.4" r="1.9" fill="#ff3535"/><text x="397.8" y="120.0" font-size="8.6" fill="#333">0.5</text><line x1="376.8" y1="127.4" x2="395.9" y2="127.4" stroke="#ff7070" stroke-width="1.1"/><circle cx="386.4" cy="127.4" r="1.9" fill="#ff7070"/><text x="397.8" y="130.0" font-size="8.6" fill="#333">0.75</text><line x1="376.8" y1="137.4" x2="395.9" y2="137.4" stroke="#ffb0b0" stroke-width="1.1"/><circle cx="386.4" cy="137.4" r="1.9" fill="#ffb0b0"/><text x="397.8" y="140.0" font-size="8.6" fill="#333">0.9</text><line x1="376.8" y1="147.4" x2="395.9" y2="147.4" stroke="#0010ff" stroke-width="1.1"/><circle cx="386.4" cy="147.4" r="1.9" fill="#0010ff"/><text x="397.8" y="150.0" font-size="8.6" fill="#333">1</text><rect x="373.5" y="246" width="38.89999999999998" height="52.0" fill="#fff" stroke="#c8c8c8" stroke-width="0.9"/><text x="376.8" y="254.5" font-size="8.6" fill="#333"><tspan font-style="italic">V</tspan><tspan font-size="5.5" dy="1.8">G</tspan><tspan dy="-1.8"> (V)</tspan></text><line x1="375.8" y1="263.7" x2="394.7" y2="263.7" stroke="#000" stroke-width="1.1"/><circle cx="385.2" cy="263.7" r="1.9" fill="#000"/><text x="396.6" y="266.3" font-size="8.6" fill="#333">-1.5</text><line x1="375.8" y1="273.59999999999997" x2="394.7" y2="273.59999999999997" stroke="#ff0000" stroke-width="1.1"/><circle cx="385.2" cy="273.59999999999997" r="1.9" fill="#ff0000"/><text x="396.6" y="276.2" font-size="8.6" fill="#333">-1</text><line x1="375.8" y1="283.5" x2="394.7" y2="283.5" stroke="#0010ff" stroke-width="1.1"/><circle cx="385.2" cy="283.5" r="1.9" fill="#0010ff"/><text x="396.6" y="286.1" font-size="8.6" fill="#333">2</text><line x1="375.8" y1="293.4" x2="394.7" y2="293.4" stroke="#ff00ff" stroke-width="1.1"/><circle cx="385.2" cy="293.4" r="1.9" fill="#ff00ff"/><text x="396.6" y="296.0" font-size="8.6" fill="#333">3</text><path d="M370.2 6.2H638.0V298.0H370.2ZM370.2 152.0H638.0" fill="none" stroke="#888" stroke-width="1.3"/><path d="M370.0 298.0v-3.5M370.0 6.2v3M370.0 152.0v3M436.9 298.0v-3.5M436.9 6.2v3M436.9 152.0v3M503.9 298.0v-3.5M503.9 6.2v3M503.9 152.0v3M570.9 298.0v-3.5M570.9 6.2v3M570.9 152.0v3M637.8 298.0v-3.5M637.8 6.2v3M637.8 152.0v3M403.5 298.0v-2M403.5 6.2v2M403.5 152.0v2M470.4 298.0v-2M470.4 6.2v2M470.4 152.0v2M537.4 298.0v-2M537.4 6.2v2M537.4 152.0v2M604.3 298.0v-2M604.3 6.2v2M604.3 152.0v2M370.2 139.4h3.5M638.0 139.4h-3.5M370.2 108.1h3.5M638.0 108.1h-3.5M370.2 76.9h3.5M638.0 76.9h-3.5M370.2 45.7h3.5M638.0 45.7h-3.5M370.2 14.4h3.5M638.0 14.4h-3.5M370.2 123.7h2M638.0 123.7h-2M370.2 92.5h2M638.0 92.5h-2M370.2 61.3h2M638.0 61.3h-2M370.2 30.1h2M638.0 30.1h-2M370.2 273.7h3.5M638.0 273.7h-3.5M370.2 225.0h3.5M638.0 225.0h-3.5M370.2 176.3h3.5M638.0 176.3h-3.5M370.2 249.4h2M638.0 249.4h-2M370.2 200.6h2M638.0 200.6h-2" stroke="#555" stroke-width="1"/><text x="366.4" y="18.6" font-size="12" text-anchor="end">6</text><text x="366.4" y="49.9" font-size="12" text-anchor="end">3</text><text x="366.4" y="81.1" font-size="12" text-anchor="end">0</text><text x="366.4" y="112.3" font-size="12" text-anchor="end">-3</text><text x="366.4" y="143.6" font-size="12" text-anchor="end">-6</text><text x="366.4" y="180.5" font-size="12" text-anchor="end">2</text><text x="366.4" y="229.2" font-size="12" text-anchor="end">0</text><text x="366.4" y="277.9" font-size="12" text-anchor="end">-2</text><text x="370.0" y="313" font-size="12" text-anchor="middle">-5.0</text><text x="436.9" y="313" font-size="12" text-anchor="middle">-2.5</text><text x="503.9" y="313" font-size="12" text-anchor="middle">0.0</text><text x="570.9" y="313" font-size="12" text-anchor="middle">2.5</text><text x="637.8" y="313" font-size="12" text-anchor="middle">5.0</text><text x="456.2" y="336" font-size="16.3"><tspan font-style="italic">y</tspan> position (µm)</text><text transform="translate(338.4,152.2) scale(0.94,1) rotate(-90)" font-size="16.4" text-anchor="middle">Δ<tspan font-style="italic">θ</tspan><tspan font-size="10" dy="3.5">K</tspan><tspan dy="-3.5"> (mrad)</tspan></text><text x="317.3" y="13.6" font-size="23" font-weight="bold">c</text><defs><clipPath id="hc0"><rect x="55.2" y="357.8" width="141.39999999999998" height="236.8"/></clipPath><clipPath id="hc1"><rect x="201.5" y="357.8" width="141.89999999999998" height="236.8"/></clipPath><clipPath id="hc2"><rect x="348.4" y="357.8" width="143.10000000000002" height="236.8"/></clipPath><clipPath id="hc3"><rect x="496.4" y="357.8" width="142.30000000000007" height="236.8"/></clipPath><filter id="bl6" x="-50%" y="-50%" width="200%" height="200%"><feGaussianBlur stdDeviation="6"/></filter><filter id="bl3" x="-50%" y="-50%" width="200%" height="200%"><feGaussianBlur stdDeviation="3"/></filter><filter id="jag" x="-10%" y="-10%" width="120%" height="120%"><feGaussianBlur stdDeviation="2.5" result="b"/><feTurbulence type="fractalNoise" baseFrequency="0.03 0.22" numOctaves="2" seed="7" result="n"/><feDisplacementMap in="b" in2="n" scale="9" xChannelSelector="R" yChannelSelector="G"/></filter><filter id="bl10" x="-50%" y="-50%" width="200%" height="200%"><feGaussianBlur stdDeviation="10"/></filter><linearGradient id="cbar" x1="0" y1="0" x2="0" y2="1"><stop offset="0" stop-color="#ff0000"/><stop offset="0.1" stop-color="#ff1515"/><stop offset="0.25" stop-color="#ff6565"/><stop offset="0.35" stop-color="#ffb0b0"/><stop offset="0.45" stop-color="#fff0f0"/><stop offset="0.52" stop-color="#ffffff"/><stop offset="0.6" stop-color="#e6e6ff"/><stop offset="0.7" stop-color="#a5a5ff"/><stop offset="0.8" stop-color="#5555ff"/><stop offset="0.9" stop-color="#2020ff"/><stop offset="1" stop-color="#0000ff"/></linearGradient><linearGradient id="h3g" gradientUnits="userSpaceOnUse" x1="340" y1="0" x2="500" y2="0"><stop offset="0" stop-color="#ffa8a8"/><stop offset="0.3" stop-color="#ff9494"/><stop offset="0.6" stop-color="#ff7c7c"/><stop offset="1" stop-color="#ff6c6c"/></linearGradient></defs><g clip-path="url(#hc0)"><rect x="40" y="340" width="180" height="270" fill="#f7f6fb"/>
<g filter="url(#bl10)">
<polygon points="40,378 100,380 150,392 200,395 200,410 150,408 100,398 40,395" fill="#fdeaea"/>
<rect x="165" y="350" width="40" height="20" fill="#fdeaea"/>
<rect x="40" y="412" width="180" height="95" fill="#ececff"/>
<polygon points="40,512 100,515 150,525 200,530 200,548 150,545 100,535 40,530" fill="#fdeded"/>
<rect x="140" y="570" width="70" height="30" fill="#fdefef"/>
</g></g><g clip-path="url(#hc1)"><rect x="190" y="340" width="170" height="270" fill="#faf6f8"/>
<g filter="url(#bl10)">
<rect x="190" y="350" width="170" height="60" fill="#fde8e8"/>
<rect x="195" y="410" width="65" height="12" fill="#efefff"/>
<rect x="190" y="440" width="80" height="45" fill="#fdeeee"/>
<rect x="190" y="462" width="115" height="22" fill="#fde6e6"/>
<rect x="205" y="490" width="150" height="55" fill="#efefff"/>
<rect x="190" y="545" width="170" height="60" fill="#f5f5ff"/>
</g>
<g filter="url(#jag)">
<polygon points="283,394 298,379 356,370 356,396 288,398" fill="#ffdada"/>
<polygon points="286,404 298,393 356,390 356,414 290,414" fill="#ffa0a0"/>
<polygon points="266,428 280,412 300,406 356,404 356,476 326,478 302,460 282,447 270,440" fill="#ff8c8c"/>
<ellipse cx="312" cy="425" rx="30" ry="12" fill="#ff4545"/>
<ellipse cx="310" cy="423" rx="16" ry="6.5" fill="#ff1515"/>
<polygon points="259,512 268,498 285,492 310,493 340,497 340,502 312,506 300,520 280,525 262,522" fill="#b4b4ff"/>
<ellipse cx="296" cy="499" rx="14" ry="5" fill="#8e8eff"/>
<ellipse cx="287" cy="479" rx="15" ry="2.6" fill="#5c5cff"/>
<ellipse cx="285" cy="471" rx="20" ry="3" fill="#eaeaff"/>
</g></g><g clip-path="url(#hc2)"><rect x="340" y="340" width="160" height="270" fill="#f8f6fa"/>
<g filter="url(#bl10)">
<rect x="340" y="350" width="160" height="45" fill="#f2f2ff"/>
<rect x="340" y="398" width="70" height="28" fill="#fdeeee"/>
<rect x="340" y="565" width="160" height="35" fill="#fdeded"/>
</g>
<g filter="url(#jag)">
<polygon points="440,402 452,385 462,368 472,366 474,380 466,398 455,410" fill="#dcdcff"/>
<polygon points="404,448 418,428 433,419 450,411 476,408 506,408 506,457 458,454 436,468 410,466" fill="#9a9aff"/>
<polygon points="415,440 428,424 450,414 506,412 506,448 460,446 432,455 418,452" fill="#6464ff"/>
<ellipse cx="450" cy="430" rx="30" ry="8" fill="#3c3cff"/>
<polygon points="336,485 400,484 450,489 506,492 506,552 460,549 420,560 380,568 336,568" fill="#ffb8b8"/>
<polygon points="336,493 380,493 430,494 470,497 506,499 506,546 460,543 430,549 400,553 380,553 336,551" fill="url(#h3g)"/>
<ellipse cx="477" cy="520" rx="22" ry="17" fill="#ff6868"/>
<ellipse cx="432" cy="521" rx="42" ry="15" fill="#ff5050"/>
<ellipse cx="431" cy="522" rx="22" ry="8" fill="#ff2424"/>
</g></g><g clip-path="url(#hc3)"><rect x="490" y="340" width="160" height="270" fill="#f9f8fc"/>
<g filter="url(#bl10)">
<rect x="490" y="355" width="160" height="40" fill="#f0f0ff"/>
<polygon points="490,398 560,400 652,412 652,470 600,478 490,478" fill="#fdeaea"/>
<rect x="490" y="500" width="160" height="90" fill="#f6f6ff"/>
</g>
<g filter="url(#jag)">
<ellipse cx="609" cy="376" rx="8" ry="1.6" fill="#cdcdff"/>
<ellipse cx="606" cy="391" rx="7" ry="1.6" fill="#d0d0ff"/>
<ellipse cx="598" cy="407" rx="10" ry="2.8" fill="#c4c4ff"/>
<polygon points="612,403 630,403 652,410 652,423 630,420 616,410" fill="#b2b2ff"/>
<ellipse cx="555" cy="449.5" rx="9" ry="1.2" fill="#ffa8a8"/>
<ellipse cx="552" cy="464.5" rx="8" ry="1.3" fill="#ffa0a0"/>
</g></g><rect x="162.2" y="432.2" width="34.4" height="89.8" fill="none" stroke="#000" stroke-opacity="0.5" stroke-width="0.8"/><text x="167.4" y="515" font-size="10.6" fill="#222">WTe<tspan font-size="7" dy="2.3">2</tspan></text><text x="67.3" y="377.4" font-size="13" fill="#1a1a1a">-1 V</text><text x="72.6" y="568.9" font-size="15" font-style="italic" fill="#1a1a1a">E<tspan font-size="9.5" dy="4.9">x</tspan></text><line x1="67.9" y1="580.5" x2="87.2" y2="580.5" stroke="#555" stroke-width="0.8"/><path d="M86.5 578.3L93.2 580.5L86.5 582.7Z" fill="#000"/><rect x="309.1" y="432.2" width="34.3" height="89.8" fill="none" stroke="#000" stroke-opacity="0.5" stroke-width="0.8"/><text x="314.3" y="515" font-size="10.6" fill="#222">WTe<tspan font-size="7" dy="2.3">2</tspan></text><text x="214.4" y="377.4" font-size="13" fill="#1a1a1a">0 V</text><text x="218.9" y="568.9" font-size="15" font-style="italic" fill="#1a1a1a">E<tspan font-size="9.5" dy="4.9">x</tspan></text><line x1="214.2" y1="580.5" x2="233.5" y2="580.5" stroke="#555" stroke-width="0.8"/><path d="M232.8 578.3L239.5 580.5L232.8 582.7Z" fill="#000"/><rect x="456.7" y="432.2" width="34.8" height="89.8" fill="none" stroke="#000" stroke-opacity="0.5" stroke-width="0.8"/><text x="461.9" y="515" font-size="10.6" fill="#222">WTe<tspan font-size="7" dy="2.3">2</tspan></text><text x="362.4" y="377.4" font-size="13" fill="#1a1a1a">1 V</text><text x="365.8" y="568.9" font-size="15" font-style="italic" fill="#1a1a1a">E<tspan font-size="9.5" dy="4.9">x</tspan></text><line x1="361.1" y1="580.5" x2="380.4" y2="580.5" stroke="#555" stroke-width="0.8"/><path d="M379.7 578.3L386.4 580.5L379.7 582.7Z" fill="#000"/><rect x="604.6" y="432.2" width="34.1" height="89.8" fill="none" stroke="#000" stroke-opacity="0.5" stroke-width="0.8"/><text x="609.8" y="515" font-size="10.6" fill="#222">WTe<tspan font-size="7" dy="2.3">2</tspan></text><text x="509.5" y="377.4" font-size="13" fill="#1a1a1a">2 V</text><text x="513.8" y="568.9" font-size="15" font-style="italic" fill="#1a1a1a">E<tspan font-size="9.5" dy="4.9">x</tspan></text><line x1="509.1" y1="580.5" x2="528.4" y2="580.5" stroke="#555" stroke-width="0.8"/><path d="M527.7 578.3L534.4 580.5L527.7 582.7Z" fill="#000"/><rect x="55.2" y="357.8" width="141.4" height="236.8" fill="none" stroke="#2a2a2a" stroke-width="1.3"/><path d="M66.5 594.6v-5.3M66.5 357.8v5.3M123.7 594.6v-5.3M123.7 357.8v5.3M180.9 594.6v-5.3M180.9 357.8v5.3M95.1 594.6v-3.2M95.1 357.8v3.2M152.3 594.6v-3.2M152.3 357.8v3.2M55.2 594.6h5.3M196.6 594.6h-5.3M55.2 535.4h5.3M196.6 535.4h-5.3M55.2 476.2h5.3M196.6 476.2h-5.3M55.2 417.0h5.3M196.6 417.0h-5.3M55.2 357.8h5.3M196.6 357.8h-5.3M55.2 565.0h3.2M196.6 565.0h-3.2M55.2 505.8h3.2M196.6 505.8h-3.2M55.2 446.6h3.2M196.6 446.6h-3.2M55.2 387.4h3.2M196.6 387.4h-3.2" stroke="#2a2a2a" stroke-width="1.1"/><text x="66.5" y="609.9" font-size="12.3" text-anchor="middle">-2.5</text><text x="123.7" y="609.9" font-size="12.3" text-anchor="middle">0.0</text><text x="180.9" y="609.9" font-size="12.3" text-anchor="middle">2.5</text><text x="127.1" y="631.3" font-size="15" text-anchor="middle"><tspan font-style="italic">x</tspan> position (µm)</text><rect x="201.5" y="357.8" width="141.9" height="236.8" fill="none" stroke="#2a2a2a" stroke-width="1.3"/><path d="M213.3 594.6v-5.3M213.3 357.8v5.3M272.7 594.6v-5.3M272.7 357.8v5.3M332.1 594.6v-5.3M332.1 357.8v5.3M243.0 594.6v-3.2M243.0 357.8v3.2M302.4 594.6v-3.2M302.4 357.8v3.2M201.5 594.6h5.3M343.4 594.6h-5.3M201.5 535.4h5.3M343.4 535.4h-5.3M201.5 476.2h5.3M343.4 476.2h-5.3M201.5 417.0h5.3M343.4 417.0h-5.3M201.5 357.8h5.3M343.4 357.8h-5.3M201.5 565.0h3.2M343.4 565.0h-3.2M201.5 505.8h3.2M343.4 505.8h-3.2M201.5 446.6h3.2M343.4 446.6h-3.2M201.5 387.4h3.2M343.4 387.4h-3.2" stroke="#2a2a2a" stroke-width="1.1"/><text x="213.3" y="609.9" font-size="12.3" text-anchor="middle">-2.5</text><text x="272.7" y="609.9" font-size="12.3" text-anchor="middle">0.0</text><text x="332.1" y="609.9" font-size="12.3" text-anchor="middle">2.5</text><text x="273.6" y="631.3" font-size="15" text-anchor="middle"><tspan font-style="italic">x</tspan> position (µm)</text><rect x="348.4" y="357.8" width="143.1" height="236.8" fill="none" stroke="#2a2a2a" stroke-width="1.3"/><path d="M360.7 594.6v-5.3M360.7 357.8v5.3M420.1 594.6v-5.3M420.1 357.8v5.3M479.6 594.6v-5.3M479.6 357.8v5.3M390.4 594.6v-3.2M390.4 357.8v3.2M449.8 594.6v-3.2M449.8 357.8v3.2M348.4 594.6h5.3M491.5 594.6h-5.3M348.4 535.4h5.3M491.5 535.4h-5.3M348.4 476.2h5.3M491.5 476.2h-5.3M348.4 417.0h5.3M491.5 417.0h-5.3M348.4 357.8h5.3M491.5 357.8h-5.3M348.4 565.0h3.2M491.5 565.0h-3.2M348.4 505.8h3.2M491.5 505.8h-3.2M348.4 446.6h3.2M491.5 446.6h-3.2M348.4 387.4h3.2M491.5 387.4h-3.2" stroke="#2a2a2a" stroke-width="1.1"/><text x="360.7" y="609.9" font-size="12.3" text-anchor="middle">-2.5</text><text x="420.1" y="609.9" font-size="12.3" text-anchor="middle">0.0</text><text x="479.6" y="609.9" font-size="12.3" text-anchor="middle">2.5</text><text x="421.1" y="631.3" font-size="15" text-anchor="middle"><tspan font-style="italic">x</tspan> position (µm)</text><rect x="496.4" y="357.8" width="142.3" height="236.8" fill="none" stroke="#2a2a2a" stroke-width="1.3"/><path d="M508.2 594.6v-5.3M508.2 357.8v5.3M567.7 594.6v-5.3M567.7 357.8v5.3M627.2 594.6v-5.3M627.2 357.8v5.3M537.9 594.6v-3.2M537.9 357.8v3.2M597.5 594.6v-3.2M597.5 357.8v3.2M496.4 594.6h5.3M638.7 594.6h-5.3M496.4 535.4h5.3M638.7 535.4h-5.3M496.4 476.2h5.3M638.7 476.2h-5.3M496.4 417.0h5.3M638.7 417.0h-5.3M496.4 357.8h5.3M638.7 357.8h-5.3M496.4 565.0h3.2M638.7 565.0h-3.2M496.4 505.8h3.2M638.7 505.8h-3.2M496.4 446.6h3.2M638.7 446.6h-3.2M496.4 387.4h3.2M638.7 387.4h-3.2" stroke="#2a2a2a" stroke-width="1.1"/><text x="508.2" y="609.9" font-size="12.3" text-anchor="middle">-2.5</text><text x="567.7" y="609.9" font-size="12.3" text-anchor="middle">0.0</text><text x="627.2" y="609.9" font-size="12.3" text-anchor="middle">2.5</text><text x="568.8" y="631.3" font-size="15" text-anchor="middle"><tspan font-style="italic">x</tspan> position (µm)</text><text x="48.6" y="361.7" font-size="12.3" text-anchor="end">5.0</text><text x="48.6" y="420.9" font-size="12.3" text-anchor="end">2.5</text><text x="48.6" y="480.1" font-size="12.3" text-anchor="end">0.0</text><text x="48.6" y="539.3" font-size="12.3" text-anchor="end">-2.5</text><text x="48.6" y="598.5" font-size="12.3" text-anchor="end">-5.0</text><text transform="translate(16.7,486.4) rotate(-90)" font-size="15" text-anchor="middle"><tspan font-style="italic">y</tspan> position (µm)</text><text x="9.3" y="360.8" font-size="23" font-weight="bold">b</text><rect x="646.2" y="432" width="8.4" height="162" fill="url(#cbar)"/><text x="658.8" y="435.8" font-size="12">7.5</text><text x="658.6" y="516.9" font-size="12">0.0</text><text x="658.4" y="597.6" font-size="12.5">-7.5</text><text x="645.6" y="395.5" font-size="13">Δ<tspan font-style="italic">θ</tspan><tspan font-size="8.5" dy="3">K</tspan></text><text x="645.6" y="414.9" font-size="13">(mrad)</text>
</svg></body></html>
